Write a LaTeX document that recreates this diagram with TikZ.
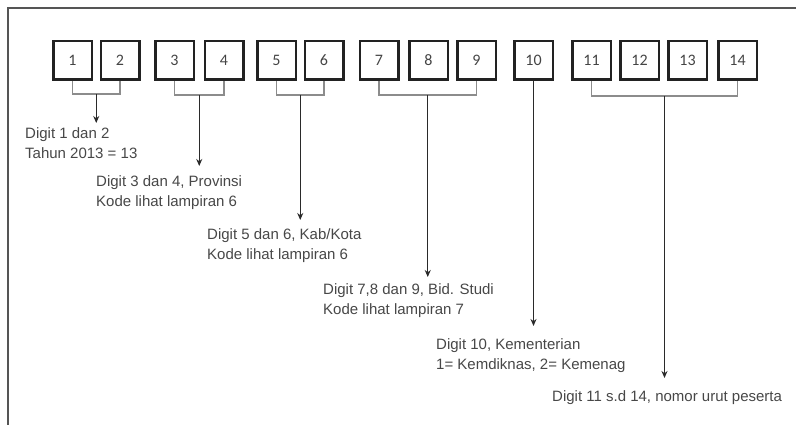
\documentclass[tikz,border=0pt]{standalone}
\usepackage{fontspec}
\setmainfont{Liberation Sans}
\newfontfamily\boxfont{Carlito}
\usetikzlibrary{arrows.meta,calc}
\definecolor{frameC}{HTML}{555555}
\definecolor{boxC}{HTML}{222222}
\definecolor{numC}{HTML}{444444}
\definecolor{brC}{HTML}{8C8C8C}
\definecolor{stemC}{HTML}{2A2A2A}
\definecolor{txtC}{HTML}{474747}
\begin{document}
\begin{tikzpicture}[x=1pt,y=-1pt,
  digitbox/.style={draw=boxC,line width=2.5pt,minimum width=38.5pt,minimum height=38.5pt,inner sep=0pt,
    font=\boxfont\fontsize{16}{18}\selectfont,text=numC},
  bracket/.style={draw=brC,line width=1.4pt},
  stem/.style={draw=stemC,line width=1.3pt,-{Stealth[length=7pt,width=6pt]}},
  desc/.style={anchor=north west,inner sep=0pt,align=left,text=txtC,
    font=\fontsize{15}{20}\selectfont},
  frameline/.style={draw=frameC,line width=2pt}]
\useasboundingbox (0,0) rectangle (796,425);
% frame
\coordinate (fa) at (8,425);
\coordinate (fb) at (8,8);
\coordinate (fc) at (796,8);
\draw[frameline] (fa) -- (fb) -- (fc);
% boxes
\foreach \n/\x in {1/72.5,2/120,3/174.5,4/224,5/276.5,6/324,7/379,8/428.5,9/476.5,10/533.5,11/591.5,12/639.5,13/687.5,14/737.5}
  \node[digitbox] (b\n) at (\x,60.5) {\n};
% groups
\coordinate (c12) at ($(b1.south)!0.5!(b2.south)$);
\coordinate (c34) at ($(b3.south)!0.5!(b4.south)$);
\coordinate (c56) at ($(b5.south)!0.5!(b6.south)$);
\coordinate (c79) at ($(b7.south)!0.5!(b9.south)$);
\coordinate (c1114) at ($(b11.south)!0.5!(b14.south)$);
\draw[bracket] (b1.south) -- ++(0,13) -| (b2.south);
\draw[bracket] (b3.south) -- ++(0,14) -| (b4.south);
\draw[bracket] (b5.south) -- ++(0,14) -| (b6.south);
\draw[bracket] (b7.south) -- ++(0,14) -| (b9.south);
\draw[bracket] (b11.south) -- ++(0,15) -| (b14.south);
% texts
\node[desc] (t1) at (25,127) {Digit 1 dan 2\\Tahun 2013 = 13};
\node[desc] (t2) at (96,175) {Digit 3 dan 4, Provinsi\\Kode lihat lampiran 6};
\node[desc] (t3) at (207,228) {Digit 5 dan 6, Kab/Kota\\Kode lihat lampiran 6};
\node[desc] (t4) at (323,283) {Digit 7,8 dan 9, Bid. Studi\\Kode lihat lampiran 7};
\node[desc] (t5) at (436,338) {Digit 10, Kementerian\\1= Kemdiknas, 2= Kemenag};
\node[desc] (t6) at (552,390) {Digit 11 s.d 14, nomor urut peserta};
% stems
\draw[stem] ($(c12)+(0,13)$) -- ($(c12 |- t1.north)+(0,-4)$);
\draw[stem] ($(c34)+(0,14)$) -- ($(c34 |- t2.north)+(0,-9)$);
\draw[stem] ($(c56)+(0,14)$) -- ($(c56 |- t3.north)+(0,-8)$);
\draw[stem] ($(c79)+(0,14)$) -- ($(c79 |- t4.north)+(0,-6)$);
\draw[stem] (b10.south) -- ($(b10.south |- t5.north)+(0,-12)$);
\draw[stem] ($(c1114)+(0,15)$) -- ($(c1114 |- t6.north)+(0,-12)$);
\end{tikzpicture}
\end{document}
